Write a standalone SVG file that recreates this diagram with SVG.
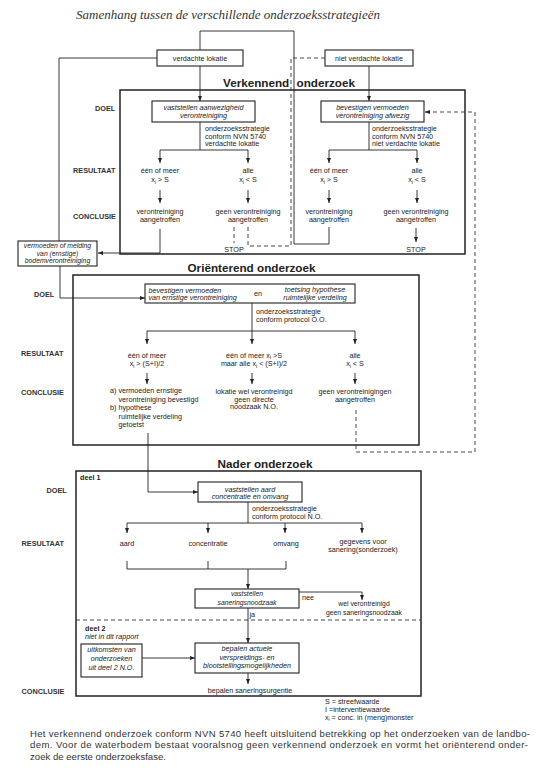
<svg xmlns="http://www.w3.org/2000/svg" width="544" height="781" viewBox="0 0 544 781">
<defs>
<style>
.t{font-family:"Liberation Sans",Arial,sans-serif;font-size:7.2px;fill:#222}
.c{text-anchor:middle}
.i{font-style:italic}
.lab{font-family:"Liberation Sans",Arial,sans-serif;font-size:7.3px;font-weight:bold;fill:#333}
.h{font-family:"Liberation Sans",Arial,sans-serif;font-size:11.7px;font-weight:bold;fill:#222;text-anchor:middle}
.big{fill:none;stroke:#222;stroke-width:1.5}
.box{fill:#fff;stroke:#222;stroke-width:1.1}
.ln{fill:none;stroke:#222;stroke-width:0.9}
.ar{fill:none;stroke:#222;stroke-width:0.9;marker-end:url(#ah)}
.ds{fill:none;stroke:#333;stroke-width:0.9;stroke-dasharray:4 3}
.sub{font-size:5px}
.sm{font-size:6.8px}
</style>
<marker id="ah" markerWidth="5" markerHeight="4" refX="5" refY="2" orient="auto" markerUnits="userSpaceOnUse">
<path d="M0,0 L5,2 L0,4 z" fill="#222"/>
</marker>
</defs>
<rect width="544" height="781" fill="#fff"/>
<text x="76" y="19" font-family="Liberation Serif,Times New Roman,serif" font-style="italic" font-size="13" fill="#333">Samenhang tussen de verschillende onderzoeksstrategieën</text>

<g id="sections">
<rect id="verkennend" class="big" x="120" y="90" width="345" height="164"/>
<rect id="orienterend" class="big" x="73" y="275" width="346" height="170"/>
<rect id="nader" class="big" x="76" y="471" width="345" height="225"/>
<text class="h" x="223" y="87" text-anchor="start" style="text-anchor:start" word-spacing="4">Verkennend onderzoek</text>
<text class="h" x="251.5" y="271.5">Oriënterend onderzoek</text>
<text class="h" x="265" y="467.5">Nader onderzoek</text>
</g>

<g id="labels">
<text class="lab" x="95" y="111">DOEL</text>
<text class="lab" x="73" y="173">RESULTAAT</text>
<text class="lab" x="73" y="219">CONCLUSIE</text>
<text class="lab" x="34" y="297">DOEL</text>
<text class="lab" x="21" y="356">RESULTAAT</text>
<text class="lab" x="21" y="395">CONCLUSIE</text>
<text class="lab" x="46.5" y="493">DOEL</text>
<text class="lab" x="21.5" y="546">RESULTAAT</text>
<text class="lab" x="21.5" y="694">CONCLUSIE</text>
</g>

<g id="connectors">
<path class="ln" d="M157,58 H59 V241"/>
<path class="ln" d="M200,50 V31 H294 V244 H329 V227"/>
<path class="ar" d="M60,266 V298 H145"/>
<path class="ar" d="M200,66 V101"/>
<path class="ar" d="M369,66 V101"/>
<path class="ln" d="M200,122 V150 M160,150 H248"/>
<path class="ar" d="M160,150 V163"/>
<path class="ar" d="M248,150 V163"/>
<path class="ar" d="M160,190 V203"/>
<path class="ar" d="M248,190 V203"/>
<path class="ar" d="M160,229 V253 H98"/>
<path class="ln" d="M369,122 V150 M329,150 H417"/>
<path class="ar" d="M329,150 V163"/>
<path class="ar" d="M417,150 V163"/>
<path class="ar" d="M329,190 V203"/>
<path class="ar" d="M417,190 V203"/>
<path class="ar" d="M416,228 V242"/>
<path class="ds" d="M234,227 V243"/>
<path class="ds" d="M248,227 V246 H291 V58 H325"/>
<path class="ds" d="M356,410 V452 H475 V112 H426"/>
<path class="ar" d="M430,112 H425"/>
<path class="ln" d="M252,303 V331 M147,331 H355"/>
<path class="ar" d="M147,331 V344"/>
<path class="ar" d="M252,331 V344"/>
<path class="ar" d="M355,331 V344"/>
<path class="ar" d="M147,373 V384"/>
<path class="ar" d="M252,373 V384"/>
<path class="ar" d="M355,373 V384"/>
<path class="ar" d="M148,433 V492 H198"/>
<path class="ln" d="M248,502 V523 M127,523 H362"/>
<path class="ar" d="M127,523 V533"/>
<path class="ar" d="M208,523 V533"/>
<path class="ar" d="M285,523 V533"/>
<path class="ar" d="M362,523 V533"/>
<path class="ln" d="M127,561 V569 H286 V561 M208,561 V569"/>
<path class="ar" d="M248,569 V589"/>
<path class="ar" d="M299,592 H362 V600"/>
<path class="ar" d="M248,608 V643"/>
<path class="ar" d="M142,658 H195"/>
<path class="ar" d="M248,673 V684"/>
<path class="ds" d="M76,620 H421"/>
</g>

<g id="n-verdachte">
<rect class="box" x="157" y="50" width="86" height="16"/>
<text class="t c" x="200" y="61">verdachte lokatie</text>
</g>
<g id="n-nietverdachte">
<rect class="box" x="325" y="50" width="88" height="16"/>
<text class="t c" x="369" y="61">niet verdachte lokatie</text>
</g>
<g id="n-vermoeden">
<rect class="box" x="18" y="241" width="79" height="25"/>
<text class="t c i sm" x="57.5" y="248">vermoeden of  melding</text>
<text class="t c i sm" x="57.5" y="255.5">van (ernstige)</text>
<text class="t c i sm" x="57.5" y="263">bodemverontreiniging</text>
</g>

<g id="n-vk-doel1">
<rect class="box" x="152" y="101" width="103" height="21"/>
<text class="t c i" x="203.5" y="110">vaststellen aanwezigheid</text>
<text class="t c i" x="203.5" y="117.5">verontreiniging</text>
</g>
<g id="n-vk-strat1">
<text class="t" x="205" y="131">onderzoeksstrategie</text>
<text class="t" x="205" y="138.5">conform NVN 5740</text>
<text class="t" x="205" y="146">verdachte lokatie</text>
</g>
<g id="n-vk-res1a"><text class="t c" x="160" y="173">één of meer</text><text class="t c" x="160" y="182">x<tspan class="sub" dy="1.5">i</tspan><tspan dy="-1.5"> &gt; S</tspan></text></g>
<g id="n-vk-res1b"><text class="t c" x="248" y="173">alle</text><text class="t c" x="248" y="182">x<tspan class="sub" dy="1.5">i</tspan><tspan dy="-1.5"> &lt; S</tspan></text></g>
<g id="n-vk-con1a"><text class="t c" x="160" y="214">verontreiniging</text><text class="t c" x="160" y="222">aangetroffen</text></g>
<g id="n-vk-con1b"><text class="t c" x="248" y="214">geen verontreiniging</text><text class="t c" x="248" y="222">aangetroffen</text></g>
<g id="n-stop1"><text class="t c" x="234" y="252">STOP</text></g>

<g id="n-vk-doel2">
<rect class="box" x="321" y="101" width="103" height="21"/>
<text class="t c i" x="372.5" y="110">bevestigen vermoeden</text>
<text class="t c i" x="372.5" y="117.5">verontreiniging afwezig</text>
</g>
<g id="n-vk-strat2">
<text class="t" x="372" y="131">onderzoeksstrategie</text>
<text class="t" x="372" y="138.5">conform NVN 5740</text>
<text class="t" x="372" y="146">niet verdachte lokatie</text>
</g>
<g id="n-vk-res2a"><text class="t c" x="329" y="173">één of meer</text><text class="t c" x="329" y="182">x<tspan class="sub" dy="1.5">i</tspan><tspan dy="-1.5"> &gt; S</tspan></text></g>
<g id="n-vk-res2b"><text class="t c" x="417" y="173">alle</text><text class="t c" x="417" y="182">x<tspan class="sub" dy="1.5">i</tspan><tspan dy="-1.5"> &lt; S</tspan></text></g>
<g id="n-vk-con2a"><text class="t c" x="329" y="214">verontreiniging</text><text class="t c" x="329" y="222">aangetroffen</text></g>
<g id="n-vk-con2b"><text class="t c" x="416" y="214">geen verontreiniging</text><text class="t c" x="416" y="222">aangetroffen</text></g>
<g id="n-stop2"><text class="t c" x="416" y="252">STOP</text></g>

<g id="n-oo-doel">
<rect class="box" x="145" y="284" width="210" height="19"/>
<text class="t i" x="148.5" y="292.5">bevestigen vermoeden</text>
<text class="t i" x="148.5" y="300">van ernstige verontreiniging</text>
<text class="t" x="258" y="296" text-anchor="middle">en</text>
<text class="t c i" x="315" y="292">toetsing hypothese</text>
<text class="t c i" x="315" y="299.5">ruimtelijke verdeling</text>
</g>
<g id="n-oo-strat">
<text class="t" x="256" y="314">onderzoeksstrategie</text>
<text class="t" x="256" y="321.5">conform protocol O.O.</text>
</g>
<g id="n-oo-res1"><text class="t c" x="147" y="357.5">één of meer</text><text class="t c" x="147" y="366">x<tspan class="sub" dy="1.5">i</tspan><tspan dy="-1.5"> &gt; (S+I)/2</tspan></text></g>
<g id="n-oo-res2"><text class="t c" x="254" y="357.5">één of meer x<tspan class="sub" dy="1.5">i</tspan><tspan dy="-1.5"> &gt;S</tspan></text><text class="t c" x="254" y="366">maar alle x<tspan class="sub" dy="1.5">i</tspan><tspan dy="-1.5"> &lt; (S+I)/2</tspan></text></g>
<g id="n-oo-res3"><text class="t c" x="355" y="357.5">alle</text><text class="t c" x="355" y="366">x<tspan class="sub" dy="1.5">i</tspan><tspan dy="-1.5"> &lt; S</tspan></text></g>
<g id="n-oo-con1">
<text class="t" x="110" y="393">a) vermoeden ernstige</text>
<text class="t" x="118.5" y="401.5">verontreiniging bevestigd</text>
<text class="t" x="110" y="410">b) hypothese</text>
<text class="t" x="118.5" y="418.5">ruimtelijke verdeling</text>
<text class="t" x="118.5" y="427">getoetst</text>
</g>
<g id="n-oo-con2">
<text class="t c" x="254" y="394">lokatie wel verontreinigd</text>
<text class="t c" x="254" y="401.5">geen directe</text>
<text class="t c" x="254" y="409">noodzaak N.O.</text>
</g>
<g id="n-oo-con3">
<text class="t c" x="355" y="394">geen verontreinigingen</text>
<text class="t c" x="355" y="401.5">aangetroffen</text>
</g>

<g id="n-deel1"><text class="t" x="80" y="480" font-weight="bold">deel 1</text></g>
<g id="n-no-doel">
<rect class="box" x="198" y="482" width="104" height="20"/>
<text class="t c i" x="250" y="491.5">vaststellen aard</text>
<text class="t c i" x="250" y="499">concentratie en omvang</text>
</g>
<g id="n-no-strat">
<text class="t" x="252" y="511">onderzoeksstrategie</text>
<text class="t" x="252" y="518.5">conform protocol N.O.</text>
</g>
<g id="n-aard"><text class="t c" x="127" y="546">aard</text></g>
<g id="n-conc"><text class="t c" x="208" y="546">concentratie</text></g>
<g id="n-omvang"><text class="t c" x="286" y="546">omvang</text></g>
<g id="n-gegevens"><text class="t c" x="363" y="544">gegevens voor</text><text class="t c" x="363" y="552">sanering(sonderzoek)</text></g>
<g id="n-noodzaak">
<rect class="box" x="195" y="589" width="104" height="19"/>
<text class="t c i sm" x="247" y="596">vaststellen</text>
<text class="t c i sm" x="247" y="604.5">saneringsnoodzaak</text>
</g>
<g id="n-nee"><text class="t" x="302" y="600">nee</text></g>
<g id="n-wel"><text class="t c sm" x="364" y="606">wel verontreinigd</text><text class="t c sm" x="364" y="614.5">geen saneringsnoodzaak</text></g>
<g id="n-ja"><text class="t" x="249.5" y="617">ja</text></g>
<g id="n-deel2">
<text class="t" x="85" y="631" font-weight="bold">deel 2</text>
<text class="t i" x="85" y="639">niet in dit rapport</text>
</g>
<g id="n-uitkomsten">
<rect class="box" x="81" y="644" width="61" height="33"/>
<text class="t c i" x="111.5" y="652">uitkomsten van</text>
<text class="t c i" x="111.5" y="661">onderzoeken</text>
<text class="t c i" x="111.5" y="669.5">uit deel 2 N.O.</text>
</g>
<g id="n-bepalen">
<rect class="box" x="195" y="643" width="104" height="30"/>
<text class="t c i" x="247" y="651">bepalen actuele</text>
<text class="t c i" x="247" y="659.5">verspreidings- en</text>
<text class="t c i" x="247" y="668">blootstellingsmogelijkheden</text>
</g>
<g id="n-urgentie"><text class="t c" x="250" y="693">bepalen saneringsurgentie</text></g>

<g id="legend">
<text class="t" x="325" y="704" font-size="6">S  = streefwaarde</text>
<text class="t" x="325" y="711.5" font-size="6">I   =interventiewaarde</text>
<text class="t" x="325" y="719.5" font-size="6">x<tspan font-size="4.5" dy="1.2">i</tspan><tspan dy="-1.2">  = conc. in (meng)monster</tspan></text>
</g>
<g id="note" font-family="Liberation Sans,Arial,sans-serif" font-size="9.6" fill="#333">
<text x="30" y="736.5" textLength="500" lengthAdjust="spacing">Het verkennend onderzoek conform NVN 5740 heeft uitsluitend betrekking op het onderzoeken van de landbo-</text>
<text x="30" y="748" textLength="498" lengthAdjust="spacing">dem. Voor de waterbodem bestaat vooralsnog geen verkennend onderzoek en vormt het oriënterend onder-</text>
<text x="30" y="759.5">zoek de eerste onderzoeksfase.</text>
</g>
</svg>
